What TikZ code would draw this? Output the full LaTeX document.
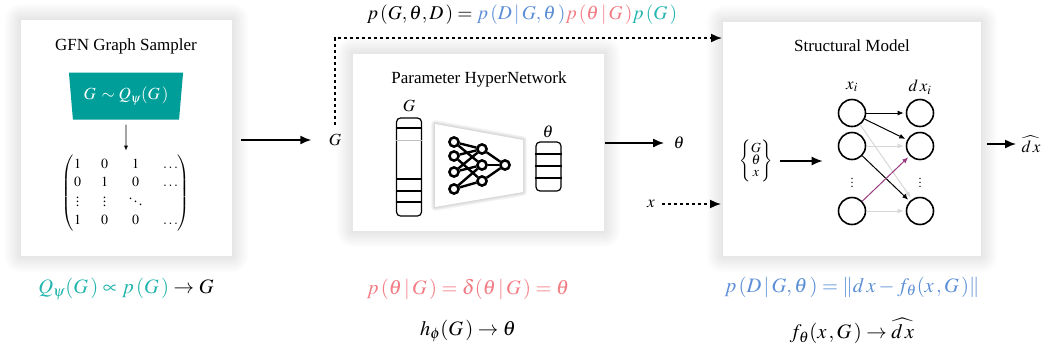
\documentclass[tikz,border=0pt]{standalone}
\usepackage{amsmath}
\usepackage{mathptmx}
\usepackage[no-math]{fontspec}
\setmainfont{Liberation Serif}
\usepackage{tikz}
\usepackage{xcolor}
\usetikzlibrary{arrows.meta,shapes.geometric}
\definecolor{gfnteal}{HTML}{009E99}
\definecolor{tealtxt}{HTML}{22B4AE}
\definecolor{redtxt}{HTML}{F27C84}
\definecolor{bluetxt}{HTML}{5B8ED6}
\definecolor{edgepurple}{HTML}{9A3A80}
\definecolor{edgegray}{HTML}{D8D8D8}

\begin{document}
\begin{tikzpicture}%
  [x=1pt,y=-1pt,font=\fontsize{17}{20}\selectfont]
  \tikzstyle{panel}=[rectangle,fill=white,inner sep=0,anchor=north west]
  \tikzstyle{bar}=[rectangle,draw,line width=1.2,rounded corners=4,inner sep=0,minimum width=25]
  \tikzstyle{unit}=[circle,draw,line width=2.4,fill=white,inner sep=0,minimum size=9]
  \tikzstyle{var}=[circle,draw,line width=1.6,inner sep=0,minimum size=27]
  \tikzstyle{bigarrow}=[line width=1.6,-{Latex[length=11,width=9]}]
  \tikzstyle{dasharrow}=[bigarrow,dash pattern=on 3 off 3]
  \tikzstyle{link}=[line width=1,-{Latex[length=6,width=5]},shorten >=2]
  \tikzstyle{eq}=[font=\fontsize{20.5}{23}\selectfont]
  \tikzstyle{vdots}=[inner sep=0,font=\fontsize{12}{12}\selectfont]
  \useasboundingbox (0,0) rectangle (1052,354);
  % soft shadows behind the panels
  \foreach \a/\b/\c/\d in {21/20/232/256,353/54/604/231,723/22/981/256}
    \foreach \s in {16,14,...,2}
      \fill[black,opacity=0.012,rounded corners=\s] (\a-\s,\b-\s) rectangle (\c+\s,\d+\s);
  \node (gfn)[panel,minimum width=211,minimum height=236] at (21,20) {};
  \node (hyper)[panel,minimum width=251,minimum height=177] at (353,54) {};
  \node (sm)[panel,minimum width=258,minimum height=234] at (723,22) {};
  % GFN graph sampler
  \node (gfnt) at (126,46) {GFN Graph Sampler};
  \node (qpsi)[trapezium,shape border rotate=180,trapezium angle=80,trapezium stretches=true,
    fill=gfnteal,text=white,minimum width=115,minimum height=47,inner sep=0] at (126,96)
    {$G\,\sim Q_\psi(G\,)$};
  \node (adj)[font=\fontsize{14}{17}\selectfont] at (126,193)
    {$\setlength{\arraycolsep}{10pt}\renewcommand{\arraystretch}{1.05}
     \begin{pmatrix}1&0&1&\dots\\0&1&0&\dots\\\vdots&\vdots&\ddots&\\1&0&0&\dots\end{pmatrix}$};
  \draw[line width=0.8,-{Latex[length=5,width=4]}] ([yshift=-5]qpsi.south) -- ([yshift=1]adj.north);
  \node (gfneq)[eq] at (126,289) {$\color{tealtxt}Q_\psi(G\,)\propto p\,(G\,)\color{black}\to G$};
  % G passed on
  \node (gin) at (335,140) {$G$};
  \draw[bigarrow] ([xshift=9]gfn.east |- gin) -- ([xshift=-14]gin.west);
  \coordinate (smin) at (722,38);
  \draw[dasharrow] ([yshift=6]gin.north) |- (smin);
  \node (joint)[eq,font=\fontsize{19.5}{22}\selectfont] at (522,15)
    {$p\,(G,\theta,D\,)=\textcolor{bluetxt}{p\,(D\,|\,G,\theta\,)}\textcolor{redtxt}{p\,(\theta\,|\,G\,)}\textcolor{tealtxt}{p\,(G\,)}$};
  % hypernetwork
  \node (hypert) at (479,79) {Parameter HyperNetwork};
  \node (gbar)[bar,minimum height=98] at (409,167) {};
  \node (gbarl) at (409,106) {$G$};
  \foreach \y in {128,179,191,202}
    \draw[line width=1.2] (gbar.west |- 0,\y) -- (gbar.east |- 0,\y);
  \draw[line width=1,black!25] (gbar.west |- 0,140) -- (gbar.east |- 0,140);
  \foreach \s in {5,4,3,2,1}
    \draw[black,opacity=0.03,line width=\s*1.6,line join=round] (435,124) -- (523,140) -- (523,192) -- (435,207) -- cycle;
  \fill[white] (435,124) -- (523,140) -- (523,192) -- (435,207) -- cycle;
  \foreach \i/\y in {1/142,2/156,3/172,4/189}
    \node (n\i)[unit] at (454,\y) {};
  \foreach \i/\y in {1/149,2/165,3/181}
    \node (m\i)[unit] at (482,\y) {};
  \node (o)[unit] at (505,165) {};
  \foreach \p/\q in {n1/m1,n1/m2,n2/m1,n2/m3,n3/m1,n3/m2,n4/m3,n4/m2,m1/o,m2/o,m3/o}
    \draw[line width=2.4] (\p) -- (\q);
  \foreach \i/\y in {1/142,2/156,3/172,4/189}
    \node[unit] at (454,\y) {};
  \foreach \i/\y in {1/149,2/165,3/181}
    \node[unit] at (482,\y) {};
  \node[unit] at (505,165) {};
  \node (tbar)[bar,minimum height=49] at (548.5,166.5) {};
  \node (tbarl) at (548,132) {$\theta$};
  \foreach \y in {154,166,178}
    \draw[line width=1.2] (tbar.west |- 0,\y) -- (tbar.east |- 0,\y);
  \node (tout) at (679,143) {$\theta$};
  \draw[bigarrow] ([xshift=1]hyper.east |- tout) -- ([xshift=-6]tout.west);
  \node (xin) at (651,204) {$x$};
  \draw[dasharrow] ([xshift=4]xin.east) -- ([xshift=-2]sm.west |- xin);
  \node (hypereq)[eq] at (468,289) {$\color{redtxt}p\,(\theta\,|\,G\,)=\delta(\theta\,|\,G\,)=\theta$};
  \node (hypermap)[eq] at (468,331) {$h_\phi(G\,)\to\theta$};
  % structural model
  \node (smt) at (852,46) {Structural Model};
  \node (inp)[font=\fontsize{14}{16}\selectfont] at (756,161)
    {$\left\{\begin{matrix}G\\[-4pt]\theta\\[-4pt]x\end{matrix}\right\}$};
  \foreach \i/\y in {1/113,2/146,3/211}{
    \node (l\i)[var] at (852,\y) {};
    \node (r\i)[var] at (920,\y) {};}
  \node (ldots)[vdots] at (852,180) {$\vdots$};
  \node (rdots)[vdots] at (920,180) {$\vdots$};
  \node (xil) at (852,87) {$x_i$};
  \node (dxil) at (920,87) {$d\,x_i$};
  \draw[bigarrow] ([xshift=4]inp.east) -- ([xshift=-15]inp.east -| l1.west);
  \foreach \p/\q in {l1/r3,l2/r2,l3/r3}
    \draw[link,edgegray] (\p) -- (\q);
  \foreach \p/\q in {l1/r1,l1/r2,l2/r3}
    \draw[link] (\p) -- (\q);
  \draw[link,edgepurple] (l3) -- (r2);
  \node (dxh) at (1031,144) {$\widehat{d\,x}$};
  \draw[bigarrow] ([xshift=6]sm.east |- dxh) -- ([xshift=-2]dxh.west);
  \node (smeq)[eq,text=bluetxt] at (852,287) {$p\,(D\,|\,G,\theta\,)=\|d\,x-f_\theta(x\,,G\,)\|$};
  \node (smmap)[eq] at (852,331) {$f_\theta(x\,,G\,)\to\widehat{d\,x}$};
\end{tikzpicture}
\end{document}
